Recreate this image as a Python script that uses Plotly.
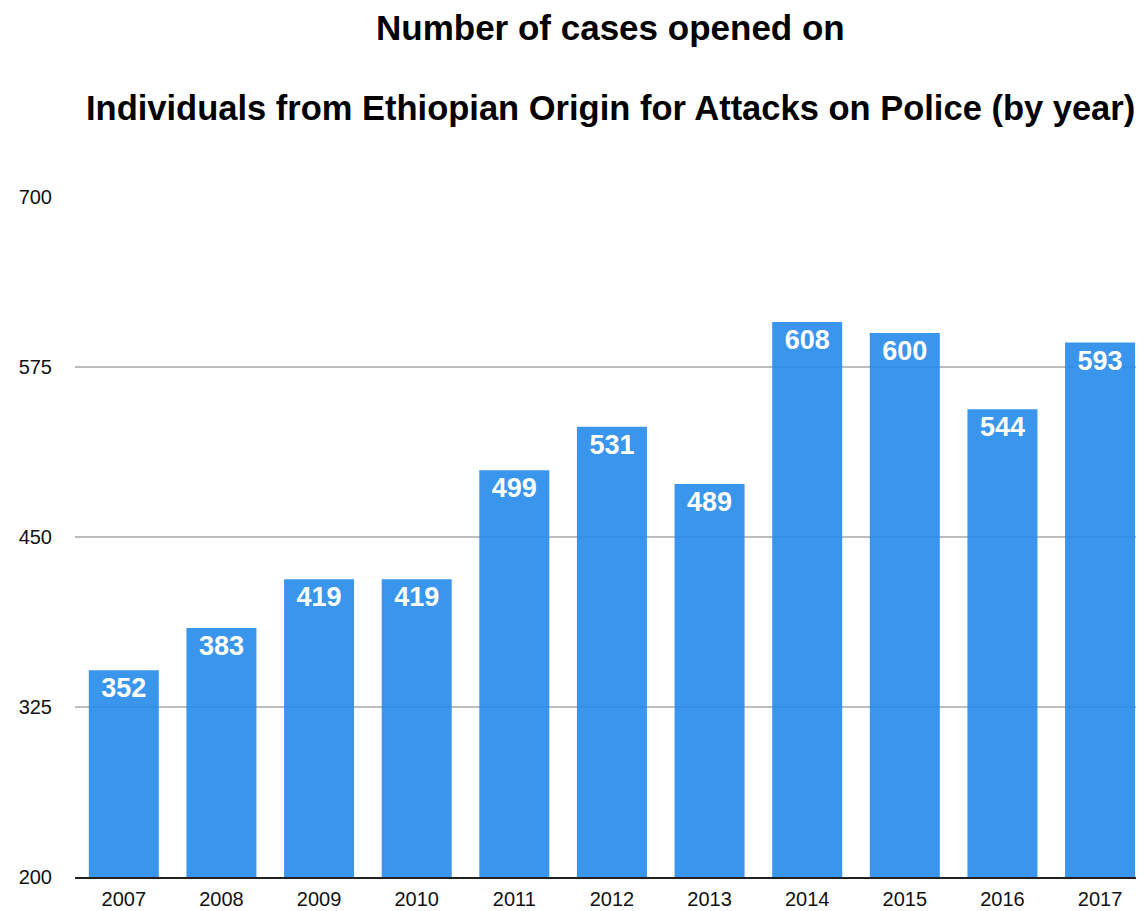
import plotly.graph_objects as go

years = ["2007", "2008", "2009", "2010", "2011", "2012", "2013", "2014", "2015", "2016", "2017"]
cases = [352, 383, 419, 419, 499, 531, 489, 608, 600, 544, 593]
y_ticks = [200, 325, 450, 575, 700]
title_line1 = "Number of cases opened on"
title_line2 = "Individuals from Ethiopian Origin for Attacks on Police (by year)"

FONT = "Liberation Sans, Arial, Helvetica, sans-serif"

fig = go.Figure()
fig.add_trace(go.Bar(
    x=years,
    y=cases,
    marker=dict(color="rgba(37,139,235,0.9)", line=dict(width=0)),
    text=[str(v) for v in cases],
    textposition="inside",
    insidetextanchor="end",
    textangle=0,
    textfont=dict(family=FONT, size=27, color="white", weight="bold"),
    hoverinfo="x+y",
))

fig.update_layout(
    width=1136,
    height=903,
    margin=dict(l=67, r=0, t=189, b=34),
    paper_bgcolor="white",
    plot_bgcolor="white",
    bargap=0.283,
    showlegend=False,
    font=dict(family=FONT, size=20, color="#111"),
    xaxis=dict(
        type="category",
        range=[-0.5, 10.45],
        showgrid=False,
        showline=True,
        linecolor="#222",
        linewidth=2,
        ticks="",
        tickfont=dict(size=20, color="#111"),
        ticklabelstandoff=3,
    ),
    yaxis=dict(
        range=[200, 700],
        tickvals=y_ticks,
        ticktext=[str(t) for t in y_ticks],
        showgrid=True,
        gridcolor="#BDBDBD",
        gridwidth=2,
        zeroline=False,
        showline=False,
        ticks="",
        tickfont=dict(size=20, color="#111"),
        ticklabelstandoff=22,
    ),
    annotations=[
        dict(text="<b>" + title_line1 + "</b>", xref="paper", yref="paper",
             x=0.5014, y=(877 - 27) / 680, xanchor="center", yanchor="middle",
             showarrow=False, font=dict(family=FONT, size=35, color="black")),
        dict(text="<b>" + title_line2 + "</b>", xref="paper", yref="paper",
             x=0.5014, y=(877 - 108) / 680, xanchor="center", yanchor="middle",
             showarrow=False, font=dict(family=FONT, size=34.5, color="black")),
    ],
)

fig.write_html("out.html")
